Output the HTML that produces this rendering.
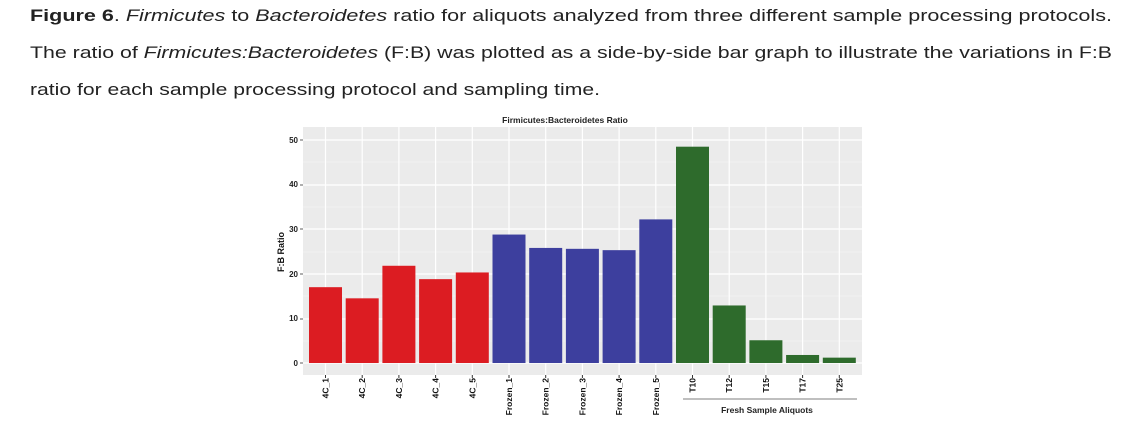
<!DOCTYPE html>
<html><head><meta charset="utf-8"><style>
html,body{margin:0;padding:0;background:#fff;width:1125px;height:430px;overflow:hidden}
svg{display:block}
</style></head><body>
<svg width="1125" height="430" xmlns="http://www.w3.org/2000/svg" font-family="Liberation Sans, sans-serif">
<g font-size="17" fill="#222">
<text x="30" y="21" textLength="1082" lengthAdjust="spacingAndGlyphs"><tspan font-weight="bold">Figure 6</tspan>. <tspan font-style="italic">Firmicutes</tspan> to <tspan font-style="italic">Bacteroidetes</tspan> ratio for aliquots analyzed from three different sample processing protocols.</text>
<text x="30" y="58" textLength="1082" lengthAdjust="spacingAndGlyphs">The ratio of <tspan font-style="italic">Firmicutes:Bacteroidetes</tspan> (F:B) was plotted as a side-by-side bar graph to illustrate the variations in F:B</text>
<text x="30" y="95" textLength="570" lengthAdjust="spacingAndGlyphs">ratio for each sample processing protocol and sampling time.</text>
</g>
<text x="565" y="123" font-size="8.5" font-weight="bold" text-anchor="middle" fill="#222">Firmicutes:Bacteroidetes Ratio</text>
<rect x="303" y="127" width="559" height="248" fill="#ebebeb"/>
<g stroke="#f6f6f6" stroke-width="0.6">
<line x1="303" x2="862" y1="341" y2="341"/><line x1="303" x2="862" y1="296" y2="296"/><line x1="303" x2="862" y1="252" y2="252"/><line x1="303" x2="862" y1="207" y2="207"/><line x1="303" x2="862" y1="162" y2="162"/>
</g>
<g stroke="#fff" stroke-width="1.2">
<line x1="303" x2="862" y1="363" y2="363"/><line x1="303" x2="862" y1="319" y2="319"/><line x1="303" x2="862" y1="274" y2="274"/><line x1="303" x2="862" y1="229" y2="229"/><line x1="303" x2="862" y1="185" y2="185"/><line x1="303" x2="862" y1="140" y2="140"/>
</g>
<g stroke="#fff" stroke-width="1.2" id="vg"></g>
<g id="bars"></g>
<g font-size="8" font-weight="bold" fill="#222" text-anchor="end">
<text x="298" y="366">0</text><text x="298" y="321">10</text><text x="298" y="277">20</text><text x="298" y="232">30</text><text x="298" y="187">40</text><text x="298" y="143">50</text>
</g>
<g stroke="#333" stroke-width="0.8">
<line x1="300" x2="303" y1="363" y2="363"/><line x1="300" x2="303" y1="319" y2="319"/><line x1="300" x2="303" y1="274" y2="274"/><line x1="300" x2="303" y1="229" y2="229"/><line x1="300" x2="303" y1="185" y2="185"/><line x1="300" x2="303" y1="140" y2="140"/>
</g>
<text transform="translate(284,252) rotate(-90)" font-size="9" font-weight="bold" text-anchor="middle" fill="#111">F:B Ratio</text>
<g id="xl" font-size="8.5" font-weight="bold" fill="#111"></g>
<line x1="683" x2="857" y1="399" y2="399" stroke="#999" stroke-width="1.2"/>
<text x="767" y="413" font-size="8.5" font-weight="bold" text-anchor="middle" fill="#222">Fresh Sample Aliquots</text>
<script>
var vals=[17,14.5,21.8,18.8,20.3,28.8,25.8,25.6,25.3,32.2,48.5,12.9,5.1,1.8,1.2];
var labs=["4C_1","4C_2","4C_3","4C_4","4C_5","Frozen_1","Frozen_2","Frozen_3","Frozen_4","Frozen_5","T10","T12","T15","T17","T25"];
var ns="http://www.w3.org/2000/svg",b=document.getElementById('bars'),xl=document.getElementById('xl'),vg=document.getElementById('vg');
for(var i=0;i<15;i++){
 var x=309+i*36.7,w=33,h=vals[i]*4.46;
 var c=i<5?"#dc1c22":(i<10?"#3d3f9e":"#2e6b2c");
 var r=document.createElementNS(ns,'rect');r.setAttribute('x',x);r.setAttribute('y',363-h);r.setAttribute('width',w);r.setAttribute('height',h);r.setAttribute('fill',c);b.appendChild(r);
 var cx=x+w/2;
 var l=document.createElementNS(ns,'line');l.setAttribute('x1',cx);l.setAttribute('x2',cx);l.setAttribute('y1',127);l.setAttribute('y2',375);vg.appendChild(l);
 var t=document.createElementNS(ns,'text');t.setAttribute('transform','translate('+(cx+3)+',378) rotate(-90)');t.setAttribute('text-anchor','end');t.textContent=labs[i];xl.appendChild(t);
 var tk=document.createElementNS(ns,'line');tk.setAttribute('x1',cx);tk.setAttribute('x2',cx);tk.setAttribute('y1',375);tk.setAttribute('y2',378);tk.setAttribute('stroke','#333');xl.appendChild(tk);
}
</script>
</svg>
</body></html>
